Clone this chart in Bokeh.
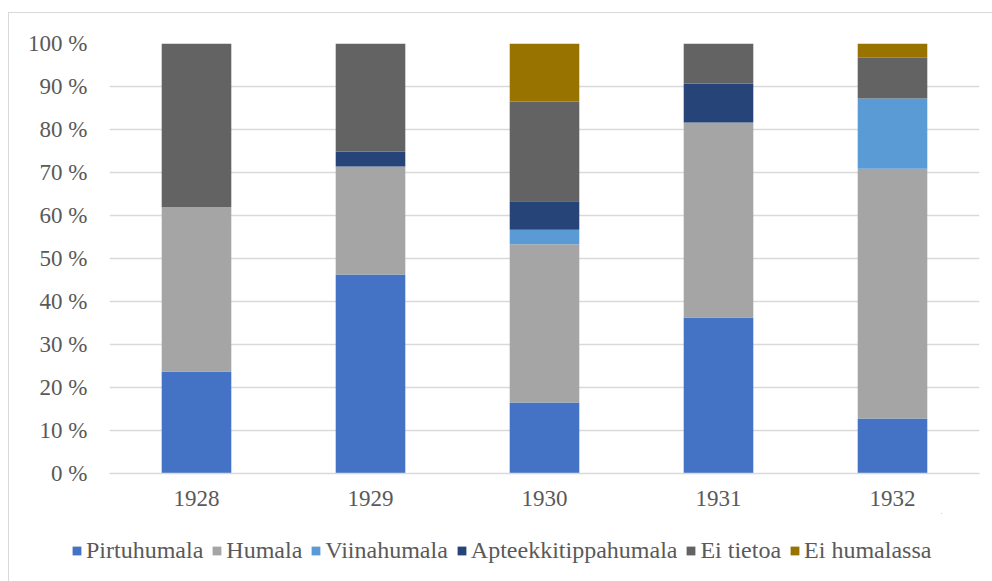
from bokeh.plotting import figure
from bokeh.models import ColumnDataSource, Legend, LegendItem, FactorRange, PrintfTickFormatter, FixedTicker, Range1d
from bokeh.layouts import column
from bokeh.embed import file_html
from bokeh.resources import INLINE

years = ["1928", "1929", "1930", "1931", "1932"]
pirtuhumala = [23.7, 46.3, 16.5, 36.3, 12.8]
humala = [38.2, 25.1, 36.8, 45.3, 58.1]
viinahumala = [0.0, 0.0, 3.4, 0.0, 16.3]
apteekkitippahumala = [0.0, 3.5, 6.6, 9.1, 0.0]
ei_tietoa = [38.1, 25.1, 23.2, 9.3, 9.5]
ei_humalassa = [0.0, 0.0, 13.5, 0.0, 3.3]

series = ["Pirtuhumala", "Humala", "Viinahumala", "Apteekkitippahumala", "Ei tietoa", "Ei humalassa"]
colors = ["#4472C4", "#A5A5A5", "#5B9BD5", "#264478", "#636363", "#997300"]

src = ColumnDataSource(data=dict(
    years=years,
    Pirtuhumala=pirtuhumala,
    Humala=humala,
    Viinahumala=viinahumala,
    Apteekkitippahumala=apteekkitippahumala,
    **{"Ei tietoa": ei_tietoa, "Ei humalassa": ei_humalassa},
))

FONT = "Liberation Serif"
FS = "23px"
TXT = "#595959"

p = figure(width=984, height=500, x_range=FactorRange(*years), y_range=Range1d(0, 100),
           output_backend="svg", toolbar_location=None,
           min_border_left=100, min_border_right=14, min_border_top=30, min_border_bottom=40)
p.outline_line_color = None

p.vbar_stack(series, x="years", width=0.4, color=colors, source=src, line_color=None)

p.xgrid.grid_line_color = None
p.ygrid.grid_line_color = "#d9d9d9"
p.ygrid.grid_line_width = 1.5
p.yaxis.ticker = FixedTicker(ticks=list(range(0, 101, 10)))
p.yaxis.formatter = PrintfTickFormatter(format="%d %%")

for ax in (p.xaxis, p.yaxis):
    ax.axis_line_color = None
    ax.major_tick_line_color = None
    ax.minor_tick_line_color = None
    ax.major_label_text_font = FONT
    ax.major_label_text_font_size = FS
    ax.major_label_text_color = TXT
p.xaxis.axis_line_color = "#d9d9d9"
p.xaxis.axis_line_width = 1.5
p.yaxis.major_label_standoff = 16
p.xaxis.major_label_standoff = 11

# legend figure: shifted left so that its frame (which holds the legend) starts where the legend begins
lf = figure(width=1022, height=79, x_range=Range1d(0, 1), y_range=Range1d(0, 1),
            output_backend="svg", toolbar_location=None, x_axis_type=None, y_axis_type=None,
            min_border_left=100, min_border_right=0, min_border_top=0, min_border_bottom=0)
lf.margin = (0, 0, 0, -38)
lf.outline_line_color = None
lf.border_fill_color = None
lf.background_fill_color = None
lf.xgrid.grid_line_color = None
lf.ygrid.grid_line_color = None
items = []
for s, c in zip(series, colors):
    # keep the swatch renderers off-screen; only their legend glyphs are shown
    r = lf.vbar(x=[5], top=[5], bottom=[4], width=0.1, color=c, line_color=None)
    items.append(LegendItem(label=s, renderers=[r]))
legend = Legend(items=items, orientation="horizontal", location=(0, 28),
                label_text_font=FONT, label_text_font_size="24px", label_text_color=TXT,
                glyph_width=11, glyph_height=11, label_standoff=4, spacing=8,
                border_line_color=None, background_fill_alpha=0, padding=0, margin=0,
                label_height=23)
lf.add_layout(legend, "center")

layout = column(p, lf, spacing=0)
layout.styles = {"border-left": "1px solid #d9d9d9", "border-top": "1px solid #d9d9d9",
                 "margin-left": "8px", "margin-top": "12px"}

open("out.html", "w").write(file_html(layout, INLINE))
